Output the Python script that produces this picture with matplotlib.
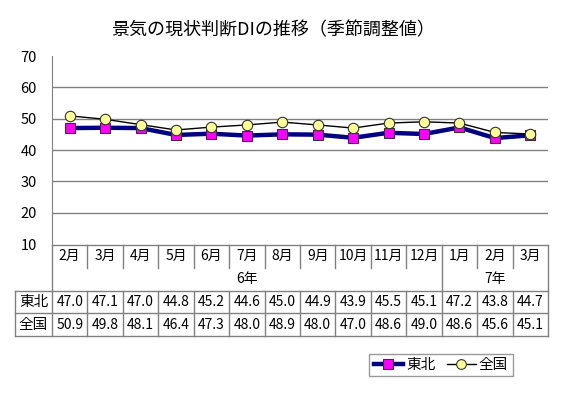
import matplotlib
matplotlib.use("Agg")
import matplotlib.pyplot as plt
from matplotlib.lines import Line2D

plt.rcParams['font.family'] = ['Noto Sans CJK JP', 'DejaVu Sans']

# data
months = ["2月", "3月", "4月", "5月", "6月", "7月", "8月", "9月", "10月", "11月", "12月", "1月", "2月", "3月"]
years = ["6年", "7年"]
year_spans = [(0, 10), (11, 13)]
tohoku = [47.0, 47.1, 47.0, 44.8, 45.2, 44.6, 45.0, 44.9, 43.9, 45.5, 45.1, 47.2, 43.8, 44.7]
zenkoku = [50.9, 49.8, 48.1, 46.4, 47.3, 48.0, 48.9, 48.0, 47.0, 48.6, 49.0, 48.6, 45.6, 45.1]
series_names = ["東北", "全国"]

W, H = 563, 394
fig = plt.figure(figsize=(W / 100, H / 100), dpi=100)
GRID = "#808080"

def fx(px):
    return px / W

def fy(py):
    return 1 - py / H

# main plot
L, R, T, B = 52, 548, 56, 244
ax = fig.add_axes([fx(L), fy(B), fx(R - L), (B - T) / H])
n = len(months)
x = list(range(n))
ax.plot(x, tohoku, color="#000080", lw=3.2, marker="s", ms=7.5,
        mfc="#FF00FF", mec="#333333", mew=0.8, zorder=3)
ax.plot(x, zenkoku, color="black", lw=1.0, marker="o", ms=7.5,
        mfc="#FFFF99", mec="#333333", mew=0.8, zorder=4)
ax.set_xlim(-0.5, n - 0.5)
ax.set_ylim(10, 70)
ax.set_yticks(range(10, 71, 10))
for v in range(20, 70, 10):
    ax.axhline(v, color=GRID, lw=1.0, zorder=1)
ax.set_xticks([])
for s in ["top", "right", "bottom"]:
    ax.spines[s].set_visible(False)
ax.spines["left"].set_color(GRID)
ax.tick_params(axis="y", length=0, labelsize=10.5, pad=11)
ax.set_facecolor("none")

fig.text(fx(273), fy(30), "景気の現状判断DIの推移（季節調整値）", ha="center", va="center", fontsize=13)

# data table below plot
TL, TT, TB = 15, 245, 336
tax = fig.add_axes([fx(TL), fy(TB), fx(R - TL), (TB - TT) / H])
colw = (R - L) / n
left_x = -0.5 - (L - TL) / colw
tax.set_xlim(left_x, n - 0.5)
tax.set_ylim(0, 4)
tax.axis("off")
lk = dict(color=GRID, lw=1.0, clip_on=False)

# month row
tax.plot([-0.5, n - 0.5], [4, 4], **lk)
for i, m in enumerate(months):
    tax.text(i, 3.5, m, ha="center", va="center", fontsize=10)
    if i > 0:
        tax.plot([i - 0.5, i - 0.5], [3, 4] if i != year_spans[1][0] else [2, 4], **lk)
tax.plot([-0.5, -0.5], [2, 4], **lk)
tax.plot([n - 0.5, n - 0.5], [0, 4], **lk)
# year row
for yl, (a, b) in zip(years, year_spans):
    tax.text((a + b) / 2, 2.5, yl, ha="center", va="center", fontsize=10)
# value rows
for r in [2, 1, 0]:
    tax.plot([left_x, n - 0.5], [r, r], **lk)
for i in range(n):
    tax.plot([i - 0.5, i - 0.5], [0, 2], **lk)
tax.plot([left_x, left_x], [0, 2], **lk)
for row, (name, vals) in enumerate(zip(series_names, [tohoku, zenkoku])):
    yc = 1.5 - row
    tax.text((left_x - 0.5) / 2, yc, name, ha="center", va="center", fontsize=10.5)
    for i, v in enumerate(vals):
        tax.text(i, yc, f"{v:.1f}", ha="center", va="center", fontsize=10)

# legend
handles = [
    Line2D([], [], color="#000080", lw=3.2, marker="s", ms=7, mfc="#FF00FF", mec="#333333", mew=0.8),
    Line2D([], [], color="black", lw=1.0, marker="o", ms=7, mfc="#FFFF99", mec="#333333", mew=0.8),
]
leg = fig.legend(handles, series_names, loc="center", bbox_to_anchor=(fx(441), fy(365)),
                 ncol=2, fontsize=10.5, frameon=True, fancybox=False, handlelength=2.0,
                 handletextpad=0.2, columnspacing=0.8, borderpad=0.3, borderaxespad=0,
                 edgecolor=GRID)
leg.get_frame().set_linewidth(1.0)

fig.savefig("out.png", dpi=100)
